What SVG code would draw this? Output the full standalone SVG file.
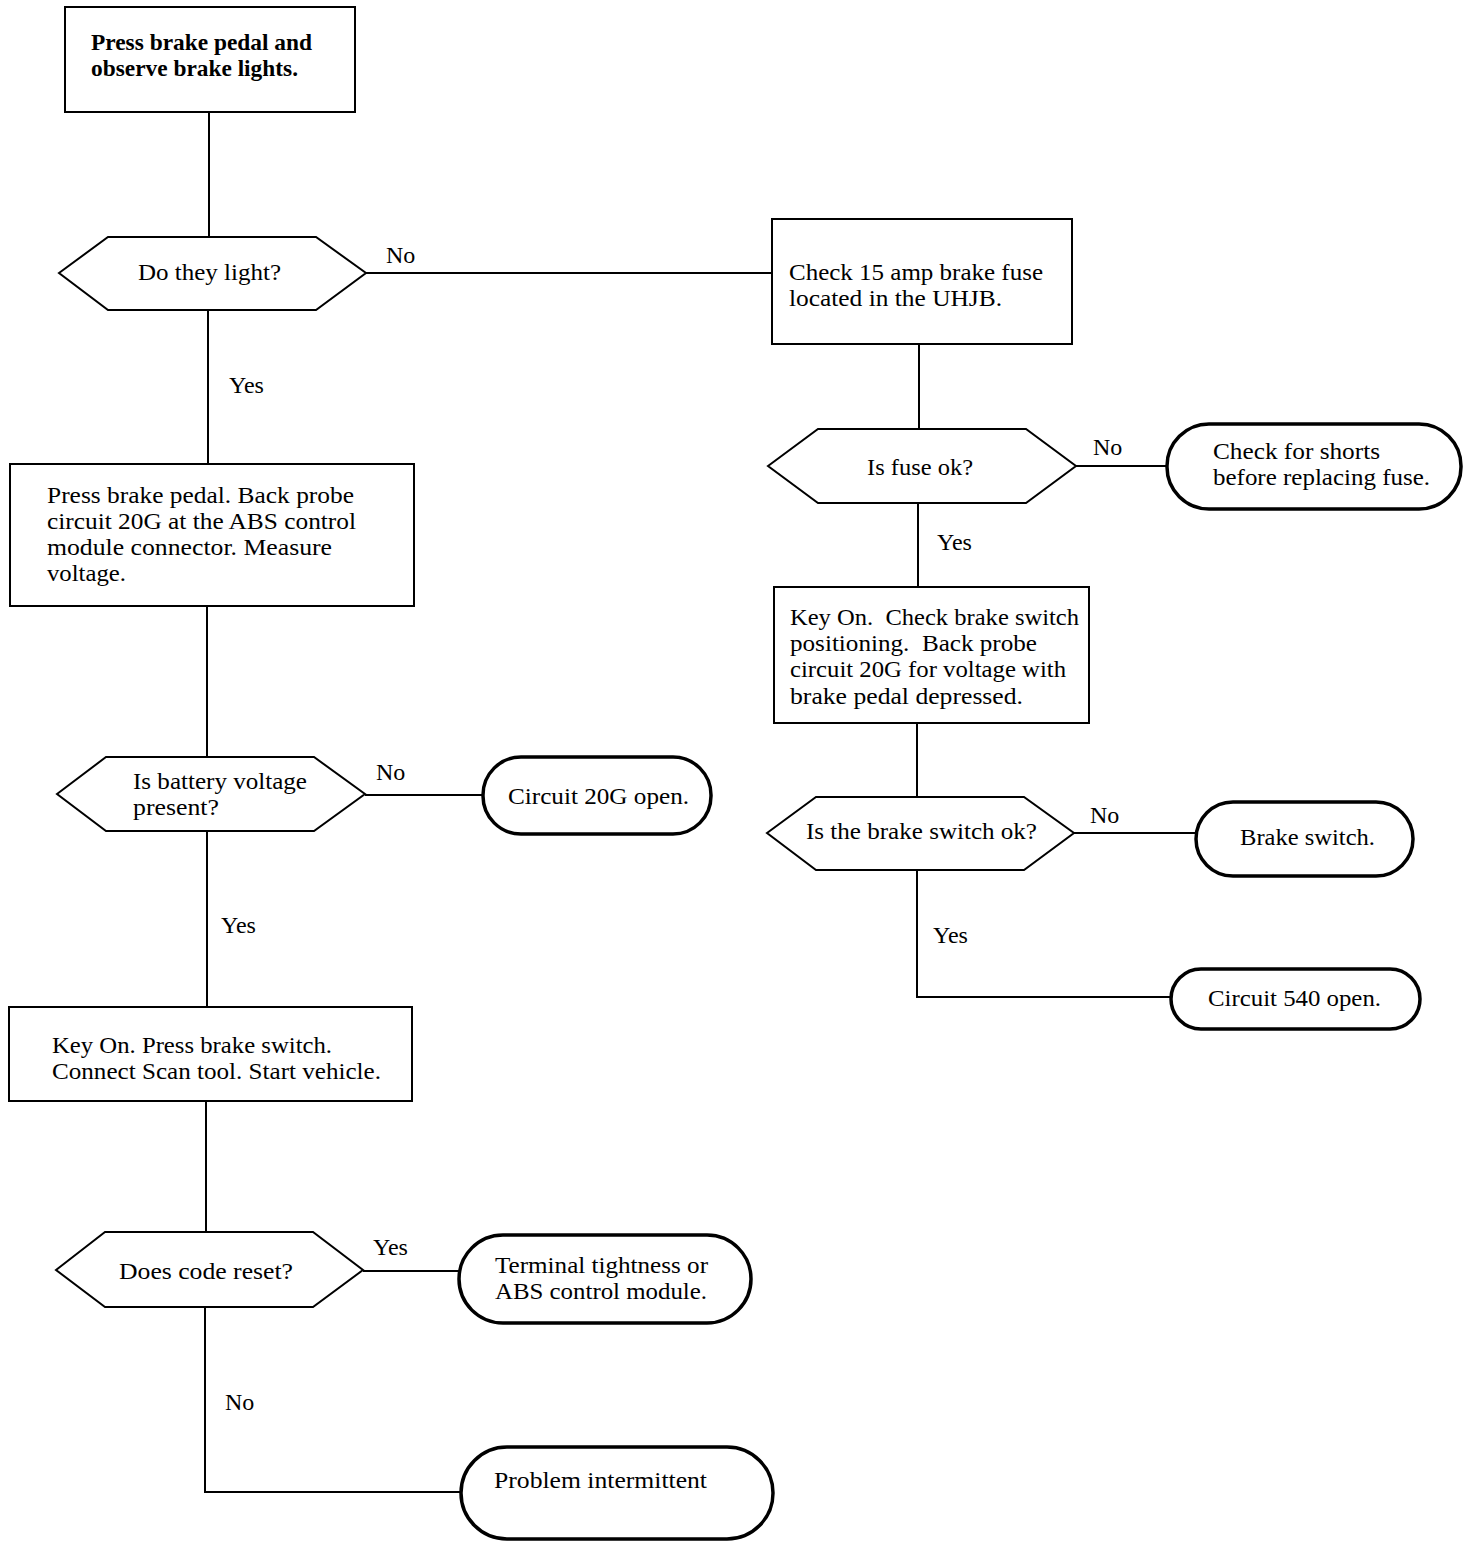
<svg xmlns="http://www.w3.org/2000/svg" width="1472" height="1548" viewBox="0 0 1472 1548">
<style>
text{font-family:"Liberation Serif","Times New Roman",serif;font-size:24px;fill:#000;white-space:pre}
.c{text-anchor:middle}
.b{font-weight:bold;font-size:23px}
.box{fill:#fff;stroke:#000;stroke-width:2}
.hex{fill:#fff;stroke:#000;stroke-width:2}
.term{fill:#fff;stroke:#000;stroke-width:3.5}
.ln{fill:none;stroke:#000;stroke-width:2}
</style>
<rect width="1472" height="1548" fill="#fff"/>
<g id="connectors">
<path class="ln" d="M209,112V237"/>
<path class="ln" d="M366,273H772"/>
<path class="ln" d="M919,344V429"/>
<path class="ln" d="M1076,466H1167"/>
<path class="ln" d="M918,503V587"/>
<path class="ln" d="M917,723V797"/>
<path class="ln" d="M1074,833H1196"/>
<path class="ln" d="M917,870V997H1171"/>
<path class="ln" d="M208,310V464"/>
<path class="ln" d="M207,606V757"/>
<path class="ln" d="M365,795H483"/>
<path class="ln" d="M207,831V1007"/>
<path class="ln" d="M206,1101V1232"/>
<path class="ln" d="M363,1271H459"/>
<path class="ln" d="M205,1307V1492H461"/>
<text x="386" y="263">No</text>
<text x="1093" y="455">No</text>
<text x="937" y="550">Yes</text>
<text x="1090" y="823">No</text>
<text x="933" y="943">Yes</text>
<text x="229" y="393">Yes</text>
<text x="376" y="780">No</text>
<text x="221" y="933">Yes</text>
<text x="373" y="1255">Yes</text>
<text x="225" y="1410">No</text>
</g>
<g id="n1">
<rect class="box" x="65" y="7" width="290" height="105"/>
<text class="b" x="91" y="50" textLength="221" lengthAdjust="spacingAndGlyphs">Press brake pedal and</text>
<text class="b" x="91" y="76" textLength="207" lengthAdjust="spacingAndGlyphs">observe brake lights.</text>
</g>
<g id="n2">
<polygon class="hex" points="59,273 108,237 316,237 366,273 316,310 108,310"/>
<text x="138" y="280" textLength="143" lengthAdjust="spacingAndGlyphs">Do they light?</text>
</g>
<g id="n3">
<rect class="box" x="772" y="219" width="300" height="125"/>
<text x="789" y="280" textLength="254" lengthAdjust="spacingAndGlyphs">Check 15 amp brake fuse</text>
<text x="789" y="306" textLength="213" lengthAdjust="spacingAndGlyphs">located in the UHJB.</text>
</g>
<g id="n4">
<polygon class="hex" points="768,466 818,429 1026,429 1076,466 1026,503 818,503"/>
<text x="867" y="475" textLength="106" lengthAdjust="spacingAndGlyphs">Is fuse ok?</text>
</g>
<g id="n5">
<rect class="term" x="1167" y="424" width="294" height="85" rx="42" ry="42"/>
<text x="1213" y="459" textLength="167" lengthAdjust="spacingAndGlyphs">Check for shorts</text>
<text x="1213" y="485" textLength="217" lengthAdjust="spacingAndGlyphs">before replacing fuse.</text>
</g>
<g id="n6">
<rect class="box" x="774" y="587" width="315" height="136"/>
<text x="790" y="625" textLength="289" lengthAdjust="spacingAndGlyphs">Key On.  Check brake switch</text>
<text x="790" y="651" textLength="247" lengthAdjust="spacingAndGlyphs">positioning.  Back probe</text>
<text x="790" y="677" textLength="276" lengthAdjust="spacingAndGlyphs">circuit 20G for voltage with</text>
<text x="790" y="704" textLength="233" lengthAdjust="spacingAndGlyphs">brake pedal depressed.</text>
</g>
<g id="n7">
<polygon class="hex" points="767,833 816,797 1024,797 1074,833 1024,870 816,870"/>
<text x="806" y="839" textLength="231" lengthAdjust="spacingAndGlyphs">Is the brake switch ok?</text>
</g>
<g id="n8">
<rect class="term" x="1196" y="802" width="217" height="74" rx="37" ry="37"/>
<text x="1240" y="845" textLength="135" lengthAdjust="spacingAndGlyphs">Brake switch.</text>
</g>
<g id="n9">
<rect class="term" x="1171" y="969" width="249" height="60" rx="30" ry="30"/>
<text x="1208" y="1006" textLength="173" lengthAdjust="spacingAndGlyphs">Circuit 540 open.</text>
</g>
<g id="n10">
<rect class="box" x="10" y="464" width="404" height="142"/>
<text x="47" y="503" textLength="307" lengthAdjust="spacingAndGlyphs">Press brake pedal. Back probe</text>
<text x="47" y="529" textLength="309" lengthAdjust="spacingAndGlyphs">circuit 20G at the ABS control</text>
<text x="47" y="555" textLength="285" lengthAdjust="spacingAndGlyphs">module connector. Measure</text>
<text x="47" y="581" textLength="79" lengthAdjust="spacingAndGlyphs">voltage.</text>
</g>
<g id="n11">
<polygon class="hex" points="57,794 106,757 314,757 365,794 314,831 106,831"/>
<text x="133" y="789" textLength="174" lengthAdjust="spacingAndGlyphs">Is battery voltage</text>
<text x="133" y="815" textLength="86" lengthAdjust="spacingAndGlyphs">present?</text>
</g>
<g id="n12">
<rect class="term" x="483" y="757" width="228" height="77" rx="38" ry="38"/>
<text x="508" y="804" textLength="181" lengthAdjust="spacingAndGlyphs">Circuit 20G open.</text>
</g>
<g id="n13">
<rect class="box" x="9" y="1007" width="403" height="94"/>
<text x="52" y="1053" textLength="280" lengthAdjust="spacingAndGlyphs">Key On. Press brake switch.</text>
<text x="52" y="1079" textLength="329" lengthAdjust="spacingAndGlyphs">Connect Scan tool. Start vehicle.</text>
</g>
<g id="n14">
<polygon class="hex" points="56,1270 105,1232 313,1232 363,1270 313,1307 105,1307"/>
<text x="119" y="1279" textLength="174" lengthAdjust="spacingAndGlyphs">Does code reset?</text>
</g>
<g id="n15">
<rect class="term" x="459" y="1235" width="292" height="88" rx="44" ry="44"/>
<text x="495" y="1273" textLength="213" lengthAdjust="spacingAndGlyphs">Terminal tightness or</text>
<text x="495" y="1299" textLength="212" lengthAdjust="spacingAndGlyphs">ABS control module.</text>
</g>
<g id="n16">
<rect class="term" x="461" y="1447" width="312" height="92" rx="46" ry="46"/>
<text x="494" y="1488" textLength="213" lengthAdjust="spacingAndGlyphs">Problem intermittent</text>
</g>
</svg>
